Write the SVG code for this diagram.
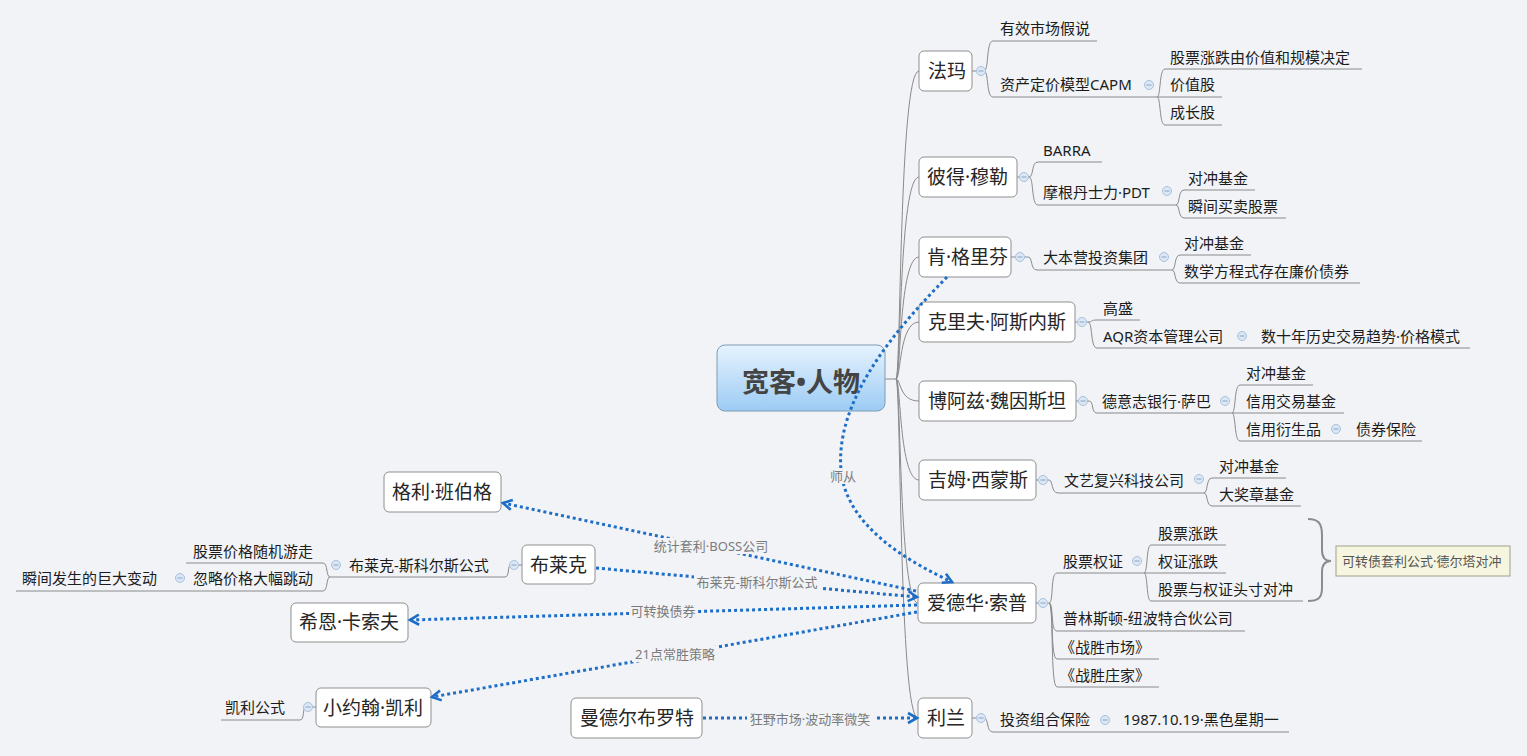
<svg xmlns="http://www.w3.org/2000/svg" width="1527" height="756" viewBox="0 0 1527 756">
<defs>
<linearGradient id="gc" x1="0" y1="0" x2="0" y2="1">
<stop offset="0" stop-color="#e6f3fe"/>
<stop offset="1" stop-color="#9ccbf4"/>
</linearGradient>
<marker id="arr" markerUnits="userSpaceOnUse" markerWidth="14" markerHeight="14" refX="10" refY="6" orient="auto" viewBox="0 0 14 12">
<path d="M1,1 L10,6 L1,11" fill="none" stroke="#1e6ec8" stroke-width="2.6"/>
</marker>
<style>
text{font-family:"Noto Sans","Noto Sans CJK SC",sans-serif;dominant-baseline:central;}
.box{fill:#ffffff;stroke:#8f8f8f;stroke-width:1;}
.nt{font-size:19px;fill:#262626;}
.lt{font-size:15px;fill:#1c1c1c;}
.ul{fill:none;stroke:#8a8a8a;stroke-width:1;}
.tl{fill:none;stroke:#8a8a8a;stroke-width:1;}
.rel{fill:none;stroke:#1e6ec8;stroke-width:3;stroke-dasharray:3 3;}
.lb{font-size:13px;fill:#7b7b7b;text-anchor:middle;}
.lbg{fill:#f1f3f6;}
.cc{fill:#dbe7f5;stroke:#a9c0dc;stroke-width:1;}
.cm{stroke:#86a4c8;stroke-width:1;}
</style>
</defs>
<rect x="0" y="0" width="1527" height="756" fill="#f1f3f6"/>

<g id="tree-connectors">
<path class="tl" d="M885,379 H896"/>
<path class="tl" d="M896,379 C901,379 899,71 919,71"/>
<path class="tl" d="M896,379 C901,379 899,177 919,177"/>
<path class="tl" d="M896,379 C901,379 899,257 919,257"/>
<path class="tl" d="M896,379 C901,379 899,322 919,322"/>
<path class="tl" d="M896,379 C901,379 899,401 919,401"/>
<path class="tl" d="M896,379 C901,379 899,480 919,480"/>
<path class="tl" d="M896,379 C901,379 899,603 918,603"/>
<path class="tl" d="M896,379 C901,379 899,718 918,718"/>
<path class="tl" d="M972,71 H984 C989,71 986,41 993,41 M984,71 C989,71 986,97 993,97"/>
<path class="tl" d="M1157,97 C1161,97 1159,69 1165,69 M1157,97 C1161,97 1159,125 1165,125"/>
<path class="tl" d="M1017,177 H1029 C1034,177 1031,162 1038,162 M1029,177 C1034,177 1031,205 1038,205"/>
<path class="tl" d="M1176,205 C1180,205 1178,190 1184,190 M1176,205 C1180,205 1178,218 1184,218"/>
<path class="tl" d="M1011,257 H1028 C1033,257 1030,270 1037,270"/>
<path class="tl" d="M1172,270 C1176,270 1174,255 1180,255 M1172,270 C1176,270 1174,283 1180,283"/>
<path class="tl" d="M1075,322 H1088 C1093,322 1090,320 1097,320 M1088,322 C1093,322 1090,348 1097,348"/>
<path class="tl" d="M1076,401 H1089 C1094,401 1091,413 1097,413"/>
<path class="tl" d="M1232,413 C1236,413 1234,385 1240,385 M1232,413 C1236,413 1234,441 1240,441"/>
<path class="tl" d="M1036,480 H1049 C1053,480 1051,493 1058,493"/>
<path class="tl" d="M1204,493 C1208,493 1206,478 1212,478 M1204,493 C1208,493 1206,506 1212,506"/>
<path class="tl" d="M1036,603 H1049 C1054,603 1050,573 1057,573 M1049,603 C1054,603 1050,631 1057,631 M1049,603 C1054,603 1050,659 1057,659 M1049,603 C1054,603 1050,687 1057,687"/>
<path class="tl" d="M1144,573 C1148,573 1146,545 1151,545 M1144,573 C1148,573 1146,601 1151,601"/>
<path class="tl" d="M972,718 H984 C989,718 986,732 993,732"/>
<path class="tl" d="M522,565 H511 C507,565 510,577 505,577"/>
<path class="tl" d="M330,577 C326,577 328,563 323,563 M330,577 C326,577 328,591 323,591"/>
<path class="tl" d="M316,707 H306 C302,707 305,720 300,720"/>
</g>

<g id="n-root">
<rect x="717" y="345" width="168" height="66" rx="8" fill="url(#gc)" stroke="#7f9bb6" stroke-width="1"/>
<text x="801" y="381" font-size="27" font-weight="bold" fill="#444444" text-anchor="middle">宽客•人物</text>
</g>

<g id="n-fama"><rect class="box" x="919" y="51" width="53" height="40" rx="5"/><text class="nt" x="928" y="71">法玛</text></g>
<g id="n-fama-1"><path class="ul" d="M993,41 H1097"/><text class="lt" x="1000" y="28">有效市场假说</text></g>
<g id="n-fama-2"><path class="ul" d="M993,97 H1157"/><text class="lt" x="1000" y="84">资产定价模型CAPM</text></g>
<g id="n-fama-2-1"><path class="ul" d="M1165,69 H1362"/><text class="lt" x="1170" y="57">股票涨跌由价值和规模决定</text></g>
<g id="n-fama-2-2"><path class="ul" d="M1157,97 H1222"/><text class="lt" x="1170" y="84">价值股</text></g>
<g id="n-fama-2-3"><path class="ul" d="M1165,125 H1222"/><text class="lt" x="1170" y="112">成长股</text></g>

<g id="n-muller"><rect class="box" x="919" y="157" width="98" height="40" rx="5"/><text class="nt" x="927" y="177">彼得·穆勒</text></g>
<g id="n-muller-1"><path class="ul" d="M1038,162 H1102"/><text class="lt" x="1043" y="150">BARRA</text></g>
<g id="n-muller-2"><path class="ul" d="M1038,205 H1176"/><text class="lt" x="1043" y="192">摩根丹士力·PDT</text></g>
<g id="n-muller-2-1"><path class="ul" d="M1184,190 H1255"/><text class="lt" x="1188" y="178">对冲基金</text></g>
<g id="n-muller-2-2"><path class="ul" d="M1184,218 H1286"/><text class="lt" x="1188" y="206">瞬间买卖股票</text></g>

<g id="n-griffin"><rect class="box" x="919" y="237" width="92" height="40" rx="5"/><text class="nt" x="927" y="257">肯·格里芬</text></g>
<g id="n-griffin-1"><path class="ul" d="M1037,270 H1172"/><text class="lt" x="1043" y="257">大本营投资集团</text></g>
<g id="n-griffin-1-1"><path class="ul" d="M1180,255 H1251"/><text class="lt" x="1184" y="243">对冲基金</text></g>
<g id="n-griffin-1-2"><path class="ul" d="M1180,283 H1360"/><text class="lt" x="1184" y="271">数学方程式存在廉价债券</text></g>

<g id="n-asness"><rect class="box" x="919" y="302" width="156" height="40" rx="5"/><text class="nt" x="928" y="322">克里夫·阿斯内斯</text></g>
<g id="n-asness-1"><path class="ul" d="M1097,320 H1140"/><text class="lt" x="1103" y="308">高盛</text></g>
<g id="n-asness-2"><path class="ul" d="M1097,348 H1250"/><text class="lt" x="1103" y="336">AQR资本管理公司</text></g>
<g id="n-asness-2-1"><path class="ul" d="M1250,348 H1470"/><text class="lt" x="1261" y="336">数十年历史交易趋势·价格模式</text></g>

<g id="n-weinstein"><rect class="box" x="919" y="381" width="157" height="40" rx="5"/><text class="nt" x="928" y="401">博阿兹·魏因斯坦</text></g>
<g id="n-weinstein-1"><path class="ul" d="M1097,413 H1232"/><text class="lt" x="1102" y="401">德意志银行·萨巴</text></g>
<g id="n-weinstein-1-1"><path class="ul" d="M1240,385 H1313"/><text class="lt" x="1246" y="373">对冲基金</text></g>
<g id="n-weinstein-1-2"><path class="ul" d="M1232,413 H1344"/><text class="lt" x="1246" y="401">信用交易基金</text></g>
<g id="n-weinstein-1-3"><path class="ul" d="M1240,441 H1345"/><text class="lt" x="1246" y="429">信用衍生品</text></g>
<g id="n-weinstein-1-3-1"><path class="ul" d="M1345,441 H1422"/><text class="lt" x="1356" y="429">债券保险</text></g>

<g id="n-simons"><rect class="box" x="919" y="460" width="117" height="40" rx="5"/><text class="nt" x="928" y="480">吉姆·西蒙斯</text></g>
<g id="n-simons-1"><path class="ul" d="M1058,493 H1204"/><text class="lt" x="1064" y="480">文艺复兴科技公司</text></g>
<g id="n-simons-1-1"><path class="ul" d="M1212,478 H1286"/><text class="lt" x="1219" y="466">对冲基金</text></g>
<g id="n-simons-1-2"><path class="ul" d="M1212,506 H1301"/><text class="lt" x="1219" y="494">大奖章基金</text></g>

<g id="n-thorp"><rect class="box" x="918" y="583" width="118" height="40" rx="5"/><text class="nt" x="927" y="603">爱德华·索普</text></g>
<g id="n-thorp-1"><path class="ul" d="M1057,573 H1144"/><text class="lt" x="1063" y="561">股票权证</text></g>
<g id="n-thorp-1-1"><path class="ul" d="M1151,545 H1226"/><text class="lt" x="1158" y="533">股票涨跌</text></g>
<g id="n-thorp-1-2"><path class="ul" d="M1144,573 H1226"/><text class="lt" x="1158" y="561">权证涨跌</text></g>
<g id="n-thorp-1-3"><path class="ul" d="M1151,601 H1303"/><text class="lt" x="1158" y="589">股票与权证头寸对冲</text></g>
<g id="n-thorp-2"><path class="ul" d="M1057,631 H1245"/><text class="lt" x="1063" y="618">普林斯顿-纽波特合伙公司</text></g>
<g id="n-thorp-3"><path class="ul" d="M1057,659 H1159"/><text class="lt" x="1060" y="647">《战胜市场》</text></g>
<g id="n-thorp-4"><path class="ul" d="M1057,687 H1159"/><text class="lt" x="1060" y="675">《战胜庄家》</text></g>

<g id="summary">
<path d="M1308,519 C1318,519 1322,523 1322,535 L1322,550 C1322,558 1325,561 1331,561 C1325,561 1322,564 1322,572 L1322,588 C1322,598 1318,601 1308,601" fill="none" stroke="#8c8c8c" stroke-width="2"/>
<rect x="1336" y="546" width="174" height="30" fill="#f6f6e0" stroke="#a0a08a" stroke-width="1"/>
<text x="1342" y="561" font-size="13" fill="#555555">可转债套利公式·德尔塔对冲</text>
</g>

<g id="n-leland"><rect class="box" x="918" y="698" width="54" height="40" rx="5"/><text class="nt" x="927" y="718">利兰</text></g>
<g id="n-leland-1"><path class="ul" d="M993,732 H1112"/><text class="lt" x="1000" y="719">投资组合保险</text></g>
<g id="n-leland-1-1"><path class="ul" d="M1112,732 H1289"/><text class="lt" x="1123" y="719">1987.10.19·黑色星期一</text></g>

<g id="n-bamberger"><rect class="box" x="384" y="472" width="117" height="40" rx="5"/><text class="nt" x="392" y="492">格利·班伯格</text></g>

<g id="n-black"><rect class="box" x="522" y="545" width="73" height="39" rx="5"/><text class="nt" x="530" y="565">布莱克</text></g>
<g id="n-black-1"><path class="ul" d="M505,577 H330"/><text class="lt" x="349" y="565">布莱克-斯科尔斯公式</text></g>
<g id="n-black-1-1"><path class="ul" d="M323,563 H186"/><text class="lt" x="193" y="551">股票价格随机游走</text></g>
<g id="n-black-1-2"><path class="ul" d="M323,591 H172"/><text class="lt" x="193" y="578">忽略价格大幅跳动</text></g>
<g id="n-black-1-2-1"><path class="ul" d="M172,591 H16"/><text class="lt" x="22" y="578">瞬间发生的巨大变动</text></g>

<g id="n-kassouf"><rect class="box" x="291" y="603" width="117" height="39" rx="5"/><text class="nt" x="299" y="622">希恩·卡索夫</text></g>

<g id="n-kelly"><rect class="box" x="316" y="688" width="115" height="39" rx="5"/><text class="nt" x="323" y="708">小约翰·凯利</text></g>
<g id="n-kelly-1"><path class="ul" d="M300,720 H221"/><text class="lt" x="225" y="707">凯利公式</text></g>

<g id="n-mandelbrot"><rect class="box" x="571" y="698" width="131" height="40" rx="5"/><text class="nt" x="580" y="718">曼德尔布罗特</text></g>

<g id="collapse-marks">
<g><circle class="cc" cx="981" cy="71" r="4.5"/><path class="cm" d="M978.5,71 H983.5"/></g>
<g><circle class="cc" cx="1149" cy="85" r="4.5"/><path class="cm" d="M1146.5,85 H1151.5"/></g>
<g><circle class="cc" cx="1024" cy="177" r="4.5"/><path class="cm" d="M1021.5,177 H1026.5"/></g>
<g><circle class="cc" cx="1167" cy="191" r="4.5"/><path class="cm" d="M1164.5,191 H1169.5"/></g>
<g><circle class="cc" cx="1020" cy="257" r="4.5"/><path class="cm" d="M1017.5,257 H1022.5"/></g>
<g><circle class="cc" cx="1164" cy="257" r="4.5"/><path class="cm" d="M1161.5,257 H1166.5"/></g>
<g><circle class="cc" cx="1082" cy="322" r="4.5"/><path class="cm" d="M1079.5,322 H1084.5"/></g>
<g><circle class="cc" cx="1242" cy="336" r="4.5"/><path class="cm" d="M1239.5,336 H1244.5"/></g>
<g><circle class="cc" cx="1083" cy="401" r="4.5"/><path class="cm" d="M1080.5,401 H1085.5"/></g>
<g><circle class="cc" cx="1225" cy="401" r="4.5"/><path class="cm" d="M1222.5,401 H1227.5"/></g>
<g><circle class="cc" cx="1336" cy="429" r="4.5"/><path class="cm" d="M1333.5,429 H1338.5"/></g>
<g><circle class="cc" cx="1043" cy="480" r="4.5"/><path class="cm" d="M1040.5,480 H1045.5"/></g>
<g><circle class="cc" cx="1199" cy="479" r="4.5"/><path class="cm" d="M1196.5,479 H1201.5"/></g>
<g><circle class="cc" cx="1043" cy="603" r="4.5"/><path class="cm" d="M1040.5,603 H1045.5"/></g>
<g><circle class="cc" cx="1137" cy="561" r="4.5"/><path class="cm" d="M1134.5,561 H1139.5"/></g>
<g><circle class="cc" cx="981" cy="718" r="4.5"/><path class="cm" d="M978.5,718 H983.5"/></g>
<g><circle class="cc" cx="1105" cy="720" r="4.5"/><path class="cm" d="M1102.5,720 H1107.5"/></g>
<g><circle class="cc" cx="514" cy="565" r="4.5"/><path class="cm" d="M511.5,565 H516.5"/></g>
<g><circle class="cc" cx="336" cy="565" r="4.5"/><path class="cm" d="M333.5,565 H338.5"/></g>
<g><circle class="cc" cx="180" cy="578" r="4.5"/><path class="cm" d="M177.5,578 H182.5"/></g>
<g><circle class="cc" cx="308" cy="707" r="4.5"/><path class="cm" d="M305.5,707 H310.5"/></g>
</g>

<g id="relationships">
<path class="rel" d="M947,277 C895,330 835,400 841,470 C846,525 905,560 952,582" marker-end="url(#arr)"/>
<path class="rel" d="M916,591 L503,503" marker-end="url(#arr)"/>
<path class="rel" d="M596,568 L917,597" marker-end="url(#arr)"/>
<path class="rel" d="M917,605 L410,620" marker-end="url(#arr)"/>
<path class="rel" d="M917,612 L432,697" marker-end="url(#arr)"/>
<path class="rel" d="M703,718 L917,718" marker-end="url(#arr)"/>
<rect class="lbg" x="829" y="468" width="28" height="16"/>
<text class="lb" x="843" y="476">师从</text>
<rect class="lbg" x="651" y="538" width="120" height="16"/>
<text class="lb" x="711" y="546">统计套利·BOSS公司</text>
<rect class="lbg" x="694" y="574" width="127" height="16"/>
<text class="lb" x="757" y="582">布莱克-斯科尔斯公式</text>
<rect class="lbg" x="629" y="603" width="69" height="16"/>
<text class="lb" x="663" y="611">可转换债券</text>
<rect class="lbg" x="632" y="646" width="86" height="16"/>
<text class="lb" x="675" y="654">21点常胜策略</text>
<rect class="lbg" x="747" y="711" width="127" height="16"/>
<text class="lb" x="810" y="719">狂野市场·波动率微笑</text>
</g>
</svg>
